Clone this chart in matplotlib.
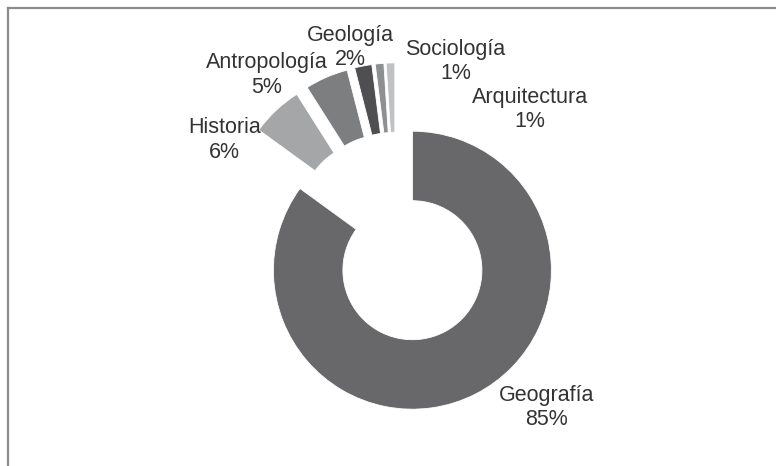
import matplotlib
matplotlib.use("Agg")
import matplotlib.pyplot as plt
from matplotlib.lines import Line2D

# Data
subjects = ["Geografía", "Historia", "Antropología", "Geología", "Sociología", "Arquitectura"]
shares = [85, 6, 5, 2, 1, 1]
colors = ["#68686a", "#a5a6a8", "#7d7e80", "#4f4f51", "#8e8f91", "#c0c1c3"]

# label anchor positions (data units, radius = 1)
label_pos = [(1.08, -1.22), (-1.235, 0.705), (-0.932, 1.173),
             (-0.329, 1.371), (0.427, 1.270), (0.966, 0.924)]

plt.rcParams["font.family"] = ["Liberation Sans", "DejaVu Sans"]

W, H = 776, 466
fig = plt.figure(figsize=(W / 100, H / 100), dpi=100)
ax = fig.add_axes([0, 0, 1, 1])

ax.pie(shares, colors=colors, startangle=90, counterclock=False,
       explode=[0.26] * len(shares),
       wedgeprops=dict(width=0.5, edgecolor="white", linewidth=0.6))

# pixel layout: pie centre at (396, 238), radius 139 px
cx, cy, r = 396.0, 238.0, 139.0
ax.set_xlim(-cx / r, (W - cx) / r)
ax.set_ylim(-(H - cy) / r, cy / r)
ax.set_aspect("auto")
ax.axis("off")

for name, val, (x, y) in zip(subjects, shares, label_pos):
    ax.text(x, y, f"{name}\n{val}%", ha="center", va="center",
            fontsize=15.5, color="#333333", linespacing=1.22)

# frame lines (top and left)
fig.add_artist(Line2D([7.5 / W, 1], [1 - 7.5 / H, 1 - 7.5 / H],
                      transform=fig.transFigure, color="#8c8c8c", lw=1.6))
fig.add_artist(Line2D([7.5 / W, 7.5 / W], [0, 1 - 7.5 / H],
                      transform=fig.transFigure, color="#8c8c8c", lw=1.6))

fig.savefig("out.png", dpi=100, facecolor="white")
